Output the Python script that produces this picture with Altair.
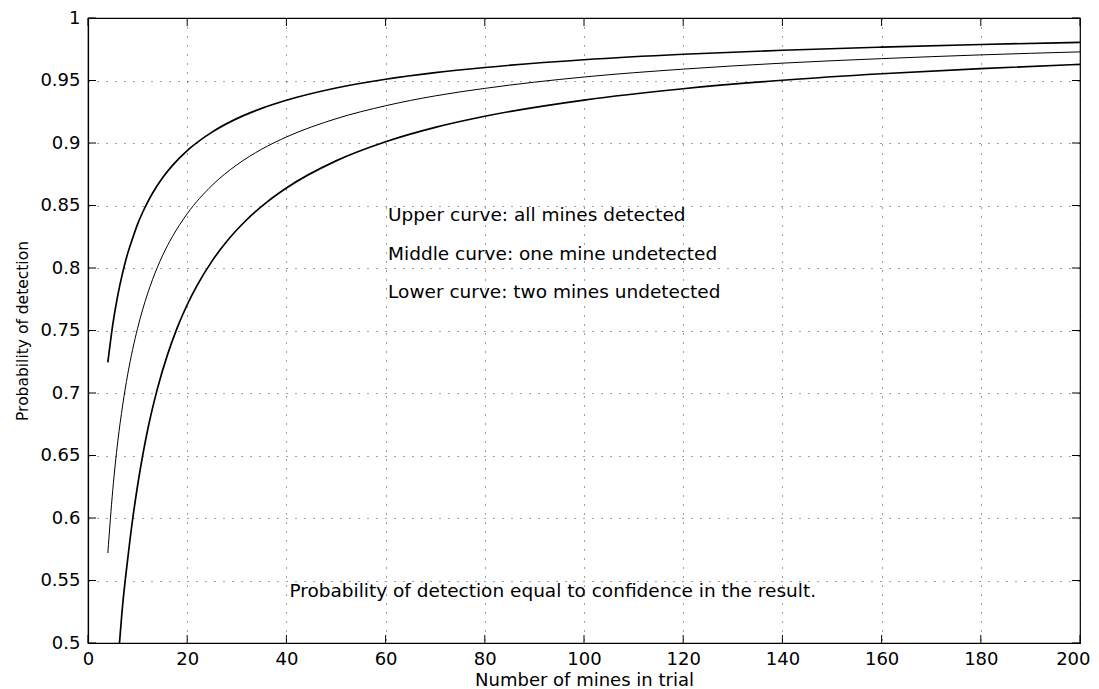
import altair as alt
import pandas as pd

# ---- data ----
upper_x = [4, 5, 6, 7, 8, 9, 10, 11, 12, 13, 15, 17, 20, 25, 30, 35, 40, 50, 60, 70, 80, 100, 120, 140, 160, 180, 200]
upper_y = [0.7245, 0.7549, 0.7781, 0.7965, 0.8117, 0.8238, 0.8351, 0.8444, 0.8525, 0.8598, 0.8720, 0.8819, 0.8939,
           0.9087, 0.9195, 0.9277, 0.9342, 0.9440, 0.9510, 0.9563, 0.9604, 0.9666, 0.9710, 0.9742, 0.9767, 0.9788, 0.9805]

middle_x = [4, 5, 6, 7, 8, 9, 10, 11, 12, 13, 15, 17, 20, 25, 30, 35, 40, 50, 60, 70, 80, 100, 120, 140, 160, 180, 200]
middle_y = [0.5720, 0.6227, 0.6610, 0.6905, 0.7148, 0.7348, 0.7518, 0.7665, 0.7793, 0.7906, 0.8097, 0.8250, 0.8434,
            0.8661, 0.8825, 0.8950, 0.9048, 0.9194, 0.9298, 0.9377, 0.9437, 0.9528, 0.9591, 0.9639, 0.9675, 0.9705, 0.9729]

lower_x = [6, 7, 8, 9, 10, 11, 12, 14, 16, 18, 20, 22, 25, 28, 32, 36, 40, 50, 60, 70, 80, 100, 120, 140, 160, 180, 200]
lower_y = [0.482, 0.531, 0.567, 0.599, 0.626, 0.6495, 0.670, 0.7035, 0.7303, 0.7523, 0.7706, 0.7861, 0.8055, 0.8214,
           0.8386, 0.8525, 0.8640, 0.8857, 0.9010, 0.9125, 0.9214, 0.9343, 0.9434, 0.9502, 0.9554, 0.9595, 0.9629]

x_ticks = [0, 20, 40, 60, 80, 100, 120, 140, 160, 180, 200]
y_ticks = [0.5, 0.55, 0.6, 0.65, 0.7, 0.75, 0.8, 0.85, 0.9, 0.95, 1.0]

note_text = ["Upper curve: all mines detected",
             "Middle curve: one mine undetected",
             "Lower curve: two mines undetected",
             "Probability of detection equal to confidence in the result."]
note_x = [60.5, 60.5, 60.5, 40.6]
note_y = [0.8424, 0.8115, 0.7810, 0.5415]

# ---- tables ----
upper = pd.DataFrame({"x": upper_x, "y": upper_y})
middle = pd.DataFrame({"x": middle_x, "y": middle_y})
lower = pd.DataFrame({"x": lower_x, "y": lower_y})
notes = pd.DataFrame({"x": note_x, "y": note_y, "note": note_text})
xt = pd.DataFrame({"x": x_ticks})
yt = pd.DataFrame({"y": y_ticks})

W, H = 992, 625
FONT = "DejaVu Sans"

x_enc = alt.X("x:Q",
              scale=alt.Scale(domain=[0, 200], nice=False, zero=False),
              axis=alt.Axis(values=x_ticks, title="Number of mines in trial", grid=True,
                            tickSize=0, labelPadding=7, labelFlush=False, labelOverlap=False,
                            labelAlign=alt.ExprRef(expr="datum.value == 200 ? 'right' : 'center'"),
                            labelOffset=alt.ExprRef(expr="datum.value == 200 ? 10 : 0"),
                            titleX=W / 2, titleY=37, titleBaseline="middle"))
y_enc = alt.Y("y:Q",
              scale=alt.Scale(domain=[0.5, 1.0], nice=False, zero=False),
              axis=alt.Axis(values=y_ticks, format="~g", title="Probability of detection", grid=True,
                            tickSize=0, labelPadding=8, labelFlush=False, labelOverlap=False,
                            titleX=-66, titleY=H / 2, titleBaseline="middle", titleAlign="center"))


def curve(df, width):
    return alt.Chart(df).mark_line(color="black", interpolate="monotone", clip=True,
                                   strokeWidth=width).encode(x=x_enc, y=y_enc)


text = alt.Chart(notes).mark_text(align="left", baseline="middle", font=FONT, fontSize=18.5,
                                  color="black").encode(x=x_enc, y=y_enc, text="note:N")

tick_len = 8
bottom_ticks = alt.Chart(xt).mark_rule(color="black", strokeWidth=1).encode(
    x=x_enc, y=alt.value(H), y2=alt.value(H - tick_len))
top_ticks = alt.Chart(xt).mark_rule(color="black", strokeWidth=1).encode(
    x=x_enc, y=alt.value(0), y2=alt.value(tick_len))
left_ticks = alt.Chart(yt).mark_rule(color="black", strokeWidth=1).encode(
    y=y_enc, x=alt.value(0), x2=alt.value(tick_len))
right_ticks = alt.Chart(yt).mark_rule(color="black", strokeWidth=1).encode(
    y=y_enc, x=alt.value(W), x2=alt.value(W - tick_len))

chart = alt.layer(
    curve(upper, 1.7), curve(middle, 1.0), curve(lower, 1.7),
    text, bottom_ticks, top_ticks, left_ticks, right_ticks
).properties(
    width=W, height=H,
    padding={"left": 80, "top": 10, "right": 11, "bottom": 52},
    autosize=alt.AutoSizeParams(type="none"),
    background="white",
).configure_view(
    stroke="black", strokeWidth=1.2
).configure_axis(
    domainColor="black", domainWidth=1.2,
    gridColor="black", gridDash=[1, 8], gridWidth=1, gridOpacity=0.75,
    labelFont=FONT, labelFontSize=18, labelColor="black",
    titleFont=FONT, titleFontSize=18, titleFontWeight="normal", titleColor="black",
).configure_axisY(
    titleFontSize=15.5
)

chart.save("out.html", embed_options={"renderer": "svg", "actions": False})
